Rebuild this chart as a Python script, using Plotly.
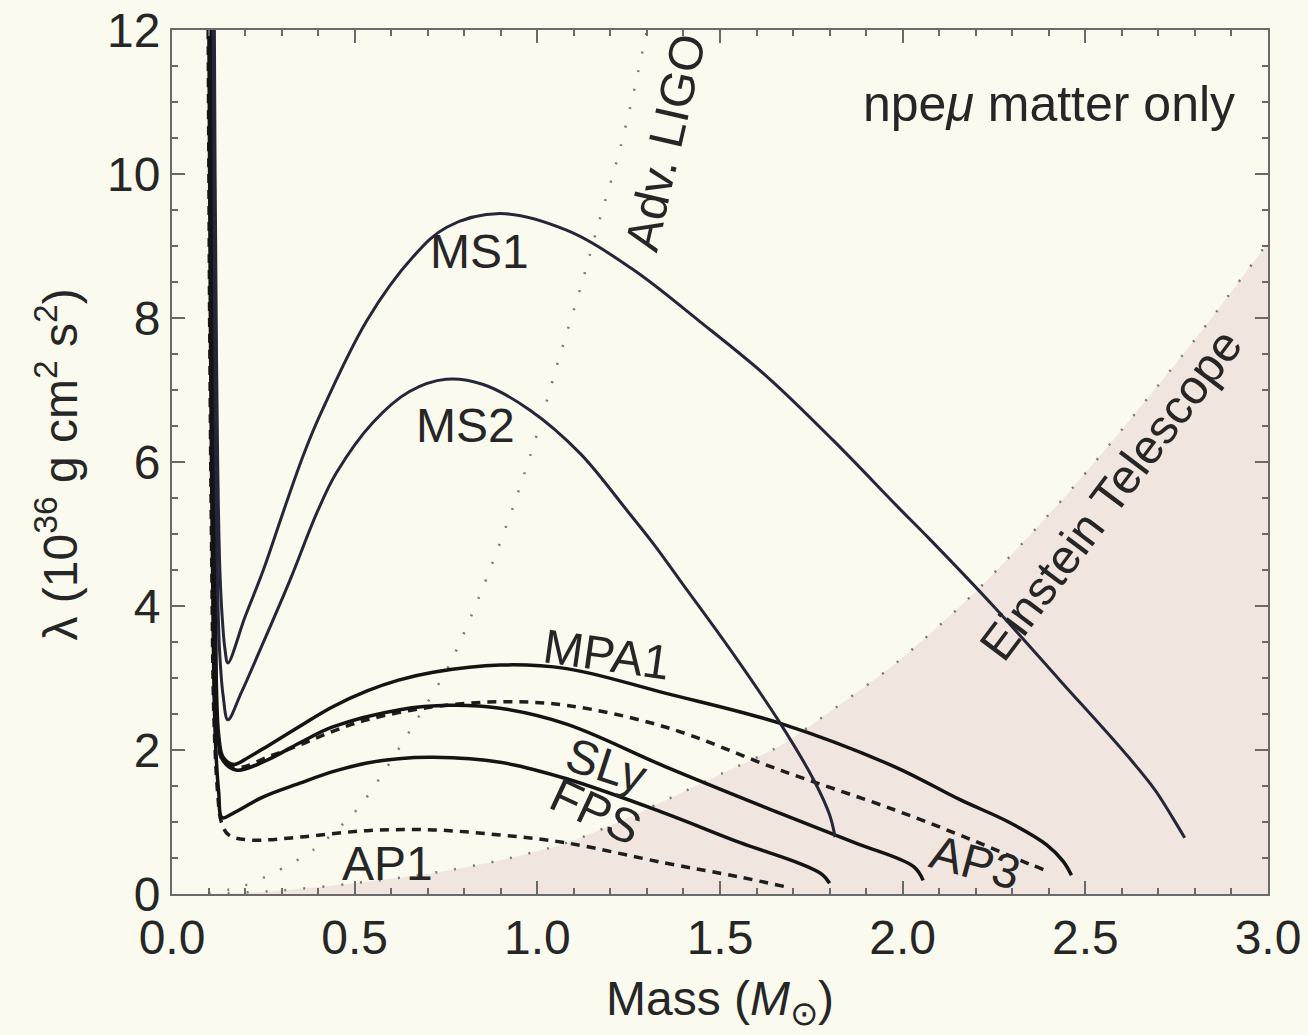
import plotly.graph_objects as go

# ---------------- data ----------------
ms1_x = [0.116, 0.118, 0.121, 0.125, 0.131, 0.138, 0.145, 0.153, 0.2, 0.25, 0.304, 0.36, 0.405, 0.534, 0.66, 0.752, 0.898,
         1.08, 1.26, 1.445, 1.63, 1.81, 1.99, 2.07, 2.25, 2.43, 2.61, 2.69, 2.74, 2.772]
ms1_y = [12.0, 10.0, 8.0, 6.0, 4.5, 3.8, 3.4, 3.21, 3.85, 4.5, 5.3, 6.1, 6.65, 7.97, 8.85, 9.26, 9.45,
         9.22, 8.68, 7.95, 7.18, 6.3, 5.36, 4.95, 3.99, 2.97, 1.95, 1.45, 1.05, 0.78]

ms2_x = [0.113, 0.115, 0.117, 0.120, 0.124, 0.13, 0.14, 0.153, 0.19, 0.241, 0.323, 0.397, 0.45, 0.55, 0.65, 0.75, 0.85,
         0.98, 1.117, 1.245, 1.32, 1.39, 1.53, 1.665, 1.757, 1.80, 1.815]
ms2_y = [12.0, 10.0, 8.0, 6.0, 4.5, 3.4, 2.75, 2.42, 2.8, 3.39, 4.36, 5.3, 5.85, 6.55, 6.98, 7.15, 7.08,
         6.72, 6.12, 5.33, 4.85, 4.36, 3.38, 2.37, 1.58, 1.1, 0.79]

mpa1_x = [0.110, 0.112, 0.114, 0.116, 0.119, 0.122, 0.128, 0.14, 0.17, 0.21, 0.26, 0.35, 0.44, 0.534, 0.62, 0.715, 0.898,
          1.08, 1.35, 1.665, 1.977, 2.157, 2.29, 2.395, 2.44, 2.462]
mpa1_y = [12.0, 10.0, 8.0, 6.0, 4.5, 2.8, 2.2, 1.9, 1.8, 1.9, 2.05, 2.33, 2.6, 2.82, 2.97, 3.08, 3.18,
          3.13, 2.79, 2.37, 1.77, 1.31, 1.0, 0.68, 0.45, 0.26]

sly_x = [0.107, 0.109, 0.111, 0.113, 0.116, 0.12, 0.126, 0.14, 0.178, 0.26, 0.35, 0.44, 0.624, 0.76, 0.898, 1.08,
         1.35, 1.665, 1.87, 2.03, 2.056]
sly_y = [12.0, 10.0, 8.0, 6.0, 4.5, 2.8, 2.15, 1.85, 1.72, 1.86, 2.1, 2.32, 2.56, 2.62, 2.58, 2.36,
         1.77, 1.12, 0.71, 0.38, 0.19]

ap3_x = [0.104, 0.106, 0.108, 0.111, 0.114, 0.118, 0.125, 0.14, 0.186, 0.26, 0.35, 0.44, 0.534, 0.715, 0.898, 1.08,
         1.35, 1.665, 1.977, 2.19, 2.345, 2.385]
ap3_y = [12.0, 10.0, 8.0, 6.0, 4.5, 2.8, 2.15, 1.85, 1.76, 1.9, 2.07, 2.26, 2.42, 2.6, 2.67, 2.62,
         2.32, 1.72, 1.17, 0.75, 0.42, 0.34]

fps_x = [0.101, 0.103, 0.105, 0.108, 0.111, 0.115, 0.12, 0.128, 0.137, 0.167, 0.25, 0.35, 0.44, 0.534, 0.62, 0.715, 0.898,
         1.08, 1.35, 1.557, 1.715, 1.78, 1.80]
fps_y = [12.0, 10.0, 8.0, 6.0, 4.5, 2.8, 2.0, 1.4, 1.06, 1.12, 1.35, 1.54, 1.7, 1.82, 1.88, 1.9, 1.83,
         1.6, 1.12, 0.71, 0.43, 0.27, 0.15]

ap1_x = [0.099, 0.101, 0.103, 0.106, 0.109, 0.113, 0.118, 0.125, 0.135, 0.155, 0.213, 0.35, 0.534, 0.715, 0.898,
         1.08, 1.35, 1.55, 1.68]
ap1_y = [12.0, 10.0, 8.0, 6.0, 4.5, 2.8, 2.0, 1.4, 1.0, 0.82, 0.75, 0.79, 0.88, 0.89, 0.82,
         0.71, 0.43, 0.24, 0.1]

ligo_x = [0.10, 0.2, 0.277, 0.386, 0.506, 0.578, 0.67, 0.761, 0.852, 0.934, 1.0, 1.06, 1.12, 1.17, 1.218, 1.26, 1.30]
ligo_y = [0.0, 0.12, 0.29, 0.61, 1.17, 1.68, 2.42, 3.2, 4.27, 5.38, 6.4, 7.45, 8.45, 9.36, 10.19, 11.05, 12.0]

et_x = [0.10, 0.3, 0.5, 0.7, 0.9, 1.08, 1.2, 1.35, 1.5, 1.665, 1.77, 1.98, 2.2, 2.467, 2.8, 3.0]
et_y = [0.0, 0.05, 0.15, 0.28, 0.47, 0.71, 0.95, 1.3, 1.66, 2.06, 2.42, 3.2, 4.2, 5.65, 7.7, 9.05]

x_ticks = [0.0, 0.5, 1.0, 1.5, 2.0, 2.5, 3.0]
y_ticks = [0, 2, 4, 6, 8, 10, 12]

# ---------------- styling ----------------
FONT = "Liberation Sans, Arial, Helvetica, sans-serif"
BG = "#fbfaee"
TXT = "#262626"

fig = go.Figure()

# Einstein Telescope shaded region
fig.add_trace(go.Scatter(x=et_x, y=et_y, mode="lines", fill="tozeroy",
                         fillcolor="#f1e5df", line=dict(color="rgba(0,0,0,0)", width=0,
                                                          shape="spline", smoothing=0.8),
                         hoverinfo="skip"))
# detector curves (dotted)
fig.add_trace(go.Scatter(x=et_x, y=et_y, mode="lines",
                         line=dict(color="#7a7a7a", width=2.5, dash="2px,17px", shape="spline", smoothing=0.8)))
fig.add_trace(go.Scatter(x=ligo_x, y=ligo_y, mode="lines",
                         line=dict(color="#7a7a7a", width=2.5, dash="2px,17px", shape="spline", smoothing=0.8)))

curves = [
    (ap1_x, ap1_y, "#1e1e1e", 3.5, "9px,7px"),
    (ap3_x, ap3_y, "#1e1e1e", 3.5, "9px,7px"),
    (fps_x, fps_y, "#141414", 3.5, "solid"),
    (sly_x, sly_y, "#141414", 3.5, "solid"),
    (mpa1_x, mpa1_y, "#141414", 3.5, "solid"),
    (ms2_x, ms2_y, "#26263a", 3, "solid"),
    (ms1_x, ms1_y, "#26263a", 3, "solid"),
]
for cx, cy, col, w, d in curves:
    fig.add_trace(go.Scatter(x=cx, y=cy, mode="lines",
                             line=dict(color=col, width=w, dash=d, shape="spline", smoothing=1.0)))

labels = [
    ("MS1", 0.843, 8.92, 0, 48),
    ("MS2", 0.802, 6.51, 0, 48),
    ("MPA1", 1.19, 3.32, 8, 48),
    ("SLy", 1.19, 1.79, 18, 48),
    ("FPS", 1.16, 1.14, 25, 48),
    ("AP1", 0.59, 0.43, 0, 48),
    ("AP3", 2.2, 0.44, 15, 48),
    ("Adv. LIGO", 1.35, 10.44, -77, 48),
    ("Einstein Telescope", 2.57, 5.55, -53, 48),
    ("npe<i>μ</i> matter only", 2.40, 10.97, 0, 50),
]
for t, lx, ly, ang, fs in labels:
    fig.add_annotation(x=lx, y=ly, xref="x", yref="y", text=t, showarrow=False,
                       textangle=ang, xanchor="center", yanchor="middle",
                       font=dict(family=FONT, size=fs, color=TXT))

# axis titles
fig.add_annotation(x=-0.105, y=0.497, xref="paper", yref="paper", showarrow=False,
                   text="λ (10<sup>36</sup> g cm<sup>2</sup> s<sup>2</sup>)", textangle=-90,
                   xanchor="center", yanchor="middle", font=dict(family=FONT, size=48, color=TXT))
fig.add_annotation(x=0.5, y=-0.125, xref="paper", yref="paper", showarrow=False,
                   text="Mass (<i>M</i><sub>⊙</sub>)",
                   xanchor="center", yanchor="middle", font=dict(family=FONT, size=48, color=TXT))

axis_common = dict(showline=True, linecolor="#6a6a6a", linewidth=2, mirror="allticks",
                   ticks="inside", tickcolor="#6a6a6a", tickwidth=1.5, ticklen=13,
                   showgrid=False, zeroline=False, automargin=False,
                   tickfont=dict(family=FONT, size=48, color=TXT))

fig.update_xaxes(range=[0, 3], tickvals=x_ticks, ticktext=[f"{v:.1f}" for v in x_ticks],
                 minor=dict(ticks="inside", dtick=0.1, ticklen=6, tickcolor="#6a6a6a", tickwidth=1.5),
                 **axis_common)
fig.update_yaxes(range=[0, 12], tickvals=y_ticks, ticktext=[str(v) for v in y_ticks],
                 minor=dict(ticks="inside", dtick=0.5, ticklen=6, tickcolor="#6a6a6a", tickwidth=1.5),
                 **axis_common)

fig.update_layout(width=1308, height=1035, showlegend=False,
                  paper_bgcolor=BG, plot_bgcolor=BG,
                  margin=dict(l=172, r=40, t=30, b=141),
                  font=dict(family=FONT, color=TXT))

fig.write_html("out.html")
